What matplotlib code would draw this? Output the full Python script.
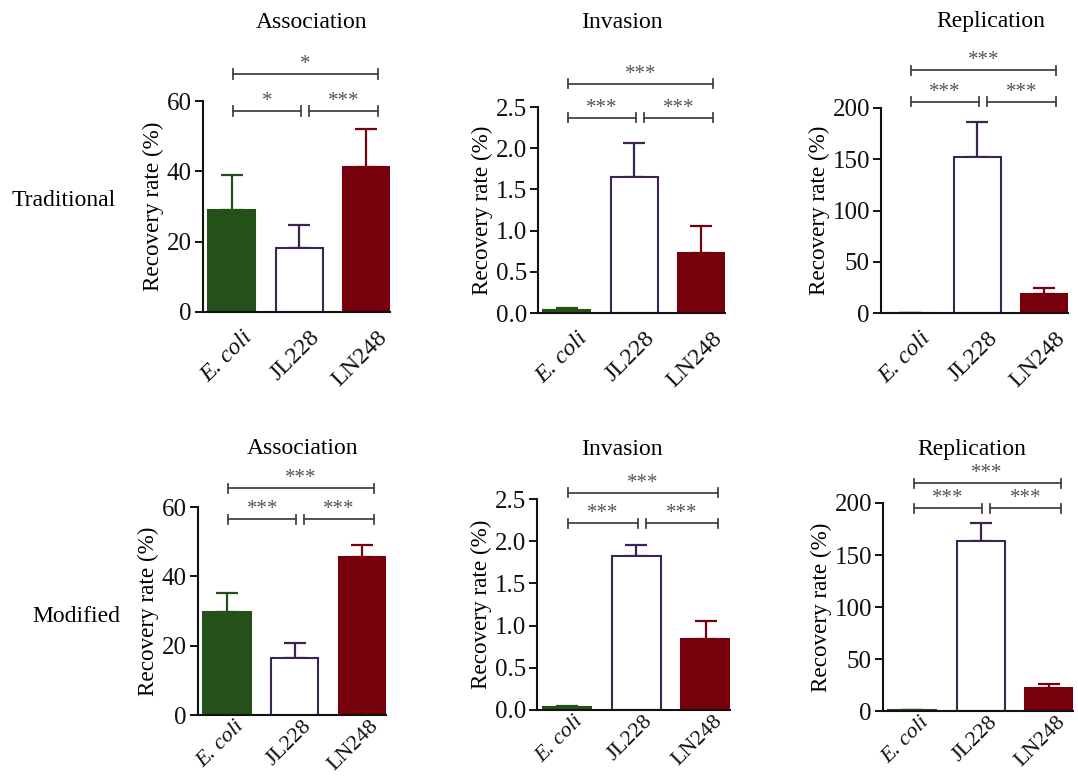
import matplotlib
matplotlib.use("Agg")
import matplotlib.pyplot as plt
from matplotlib.transforms import ScaledTranslation

plt.rcParams["font.family"] = ["Liberation Serif", "DejaVu Serif"]

# ---- data ----
strains = ["E. coli", "JL228", "LN248"]
assays = ["Association", "Invasion", "Replication"]
methods = ["Traditional", "Modified"]

trad_assoc = [29.0, 18.2, 41.2]
trad_assoc_err = [10.0, 6.5, 10.8]
trad_inv = [0.035, 1.65, 0.73]
trad_inv_err = [0.025, 0.41, 0.33]
trad_rep = [0.4, 152.0, 19.0]
trad_rep_err = [0.0, 34.0, 5.5]

mod_assoc = [29.7, 16.4, 45.6]
mod_assoc_err = [5.5, 4.4, 3.5]
mod_inv = [0.03, 1.82, 0.84]
mod_inv_err = [0.02, 0.14, 0.22]
mod_rep = [0.8, 163.0, 22.5]
mod_rep_err = [0.0, 18.0, 3.0]

ymax = [60, 2.5, 200]
ystep = [20, 0.5, 50]

# significance: (E.coli vs JL228, JL228 vs LN248, E.coli vs LN248)
trad_sig = [["*", "***", "*"], ["***", "***", "***"], ["***", "***", "***"]]
mod_sig = [["***", "***", "***"], ["***", "***", "***"], ["***", "***", "***"]]

values = [[trad_assoc, trad_inv, trad_rep], [mod_assoc, mod_inv, mod_rep]]
errors = [[trad_assoc_err, trad_inv_err, trad_rep_err],
          [mod_assoc_err, mod_inv_err, mod_rep_err]]
sigs = [trad_sig, mod_sig]

# ---- style ----
face = ["#24501A", "white", "#76000B"]
edge = ["#24501A", "#3B2356", "#76000B"]

W, H = 1078, 777
# axes boxes in pixels: left, right, bottom, top
boxes = [[(203, 390, 312, 101), (538, 725, 313, 107), (881, 1068, 313, 108)],
         [(198, 386, 715, 507), (537, 730, 710, 499), (883, 1073, 711, 503)]]
# bracket heights in axes fraction (lower pair, top)
br_h = [[(0.952, 1.128), (0.948, 1.112), (1.03, 1.185)],
        [(0.94, 1.09), (0.884, 1.03), (0.975, 1.095)]]
title_pos = [[(312, 22), (622, 22), (991, 22)],
             [(303, 449), (622, 450), (972, 450)]]
# x tick label offset (px right, px down) and size per row
lab_off = [(10, 15), (7, 2)]
lab_size = [17.5, 16]

fig = plt.figure(figsize=(W / 100, H / 100), dpi=100)
gray = "#444444"

for r in range(2):
    for c in range(3):
        l, rt, b, t = boxes[r][c]
        ax = fig.add_axes([l / W, 1 - b / H, (rt - l) / W, (b - t) / H])
        x = range(3)
        vals = values[r][c]
        errs = errors[r][c]
        for i in x:
            ax.errorbar(i, vals[i], yerr=[[0], [errs[i]]], fmt="none",
                        ecolor=edge[i], elinewidth=1.6, capsize=8,
                        capthick=1.6, zorder=1)
            ax.bar(i, vals[i], width=0.7, color=face[i], edgecolor=edge[i],
                   linewidth=1.5, zorder=2)
        ax.set_xlim(-0.43, 2.35)
        ax.set_ylim(0, ymax[c])
        n = int(round(ymax[c] / ystep[c]))
        ticks = [k * ystep[c] for k in range(n + 1)]
        ax.set_yticks(ticks)
        if c == 1:
            ax.set_yticklabels([f"{v:.1f}" for v in ticks])
        else:
            ax.set_yticklabels([f"{v:g}" for v in ticks])
        ax.set_xticks(list(x))
        ax.set_xticklabels([])

        # rotated strain labels
        dx, dy = lab_off[r]
        off = ScaledTranslation(dx / 100, -dy / 100, fig.dpi_scale_trans)
        for i, name in enumerate(strains):
            ax.text(i, 0, name, transform=ax.get_xaxis_transform() + off,
                    rotation=45, ha="right", va="top", rotation_mode="anchor",
                    fontsize=lab_size[r], color="#111111",
                    style="italic" if i == 0 else "normal")

        ax.tick_params(axis="x", length=0)
        ax.tick_params(axis="y", direction="out", length=6, width=1.4,
                       labelsize=18, pad=2, colors="#111111")
        for s in ["top", "right"]:
            ax.spines[s].set_visible(False)
        for s in ["left", "bottom"]:
            ax.spines[s].set_linewidth(1.5)
            ax.spines[s].set_color("#111111")
        ax.set_ylabel("Recovery rate (%)", fontsize=16.7, labelpad=2)

        # significance brackets
        tr = ax.get_xaxis_transform()
        lo, hi = br_h[r][c]
        spans = [(0.02, 1.02, lo), (1.14, 2.17, lo), (0.02, 2.17, hi)]
        for (x0, x1, yy), s in zip(spans, sigs[r][c]):
            ax.plot([x0, x1], [yy, yy], color=gray, lw=1.3, transform=tr,
                    clip_on=False)
            for xe in (x0, x1):
                ax.plot([xe, xe], [yy - 0.022, yy + 0.022], color=gray,
                        lw=1.3, transform=tr, clip_on=False)
            ax.annotate(s, xy=((x0 + x1) / 2, yy), xycoords=tr,
                        xytext=(0, 0), textcoords="offset points",
                        ha="center", va="bottom", fontsize=15, color="#555555",
                        annotation_clip=False)

        tx, ty = title_pos[r][c]
        fig.text(tx / W, 1 - ty / H, assays[c], ha="center", va="center",
                 fontsize=17)

fig.text(12 / W, 1 - 200 / H, methods[0], ha="left", va="center", fontsize=17)
fig.text(32 / W, 1 - 616 / H, methods[1], ha="left", va="center", fontsize=17)

fig.savefig("out.png", dpi=100, facecolor="white")
